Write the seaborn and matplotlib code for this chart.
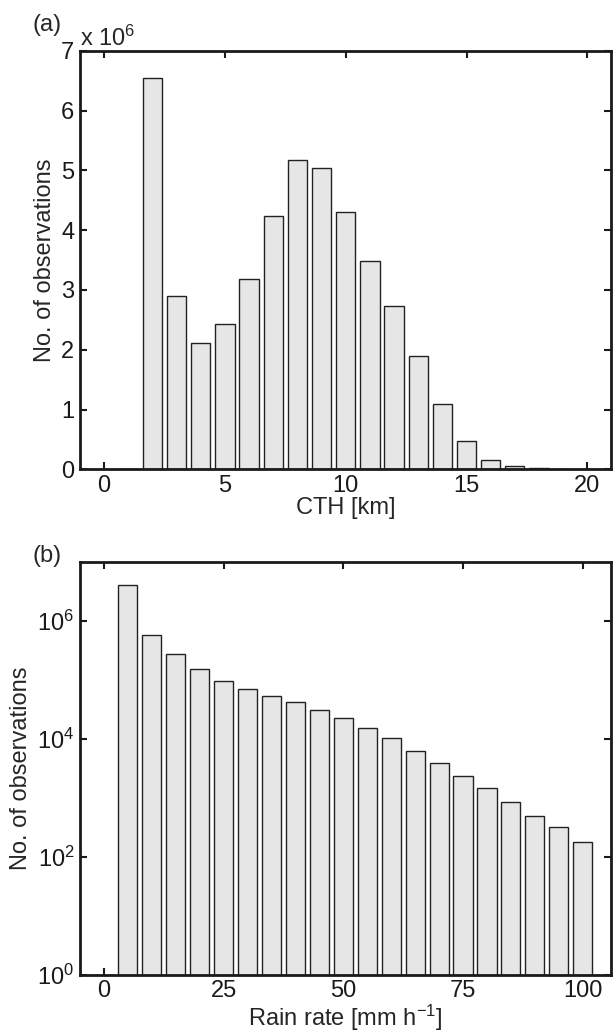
import numpy as np
import pandas as pd
import matplotlib
matplotlib.use("Agg")
import matplotlib.pyplot as plt
import matplotlib.ticker as mticker
import seaborn as sns

# ---- data ----
cth_km = list(range(0, 21))
cth_counts = [0, 0, 6.54e6, 2.90e6, 2.12e6, 2.43e6, 3.18e6, 4.23e6, 5.17e6, 5.04e6,
              4.31e6, 3.49e6, 2.73e6, 1.90e6, 1.09e6, 0.47e6, 0.16e6, 0.06e6, 0.028e6,
              0.0, 0.0]

rain_rate = list(range(0, 105, 5))
rain_counts = [0, 4.05e6, 5.8e5, 2.76e5, 1.54e5, 9.6e4, 6.9e4, 5.4e4, 4.2e4, 3.1e4,
               2.3e4, 1.55e4, 1.03e4, 6.3e3, 3.9e3, 2.35e3, 1.47e3, 860, 495, 316, 178]

cth_ticks = [0, 5, 10, 15, 20]
rain_ticks = [0, 25, 50, 75, 100]
log_ticks = [1, 1e2, 1e4, 1e6]

sns.set_style("ticks")
plt.rcParams['font.family'] = ['Liberation Sans', 'DejaVu Sans']
plt.rcParams['mathtext.default'] = 'regular'
plt.rcParams['axes.linewidth'] = 2.0
plt.rcParams['xtick.direction'] = 'in'
plt.rcParams['ytick.direction'] = 'in'

FS = 17
fig = plt.figure(figsize=(6.13, 10.36), dpi=100)
ax1 = fig.add_axes([0.1305, 0.547, 0.867, 0.404])
ax2 = fig.add_axes([0.1305, 0.059, 0.867, 0.3985])

bar_kw = dict(native_scale=True, width=0.8, color='#e6e6e6', edgecolor='#222222',
              linewidth=1.0, saturation=1)

df1 = pd.DataFrame({'CTH': cth_km, 'N': cth_counts})
sns.barplot(data=df1, x='CTH', y='N', ax=ax1, **bar_kw)
ax1.set_xlim(-1, 21)
ax1.set_ylim(0, 7e6)
ax1.set_xticks(cth_ticks)
ax1.set_yticks(np.arange(0, 8) * 1e6)
ax1.yaxis.set_major_formatter(mticker.FuncFormatter(lambda v, p: f"{v/1e6:g}"))
ax1.set_xlabel('CTH [km]', fontsize=FS, labelpad=0)
ax1.set_ylabel('No. of observations', fontsize=FS, labelpad=4)
ax1.text(0.0, 1.0, r'x 10$^{6}$', transform=ax1.transAxes, fontsize=FS,
         ha='left', va='bottom')
fig.text(0.053, 0.976, '(a)', fontsize=FS, ha='left', va='center')

df2 = pd.DataFrame({'Rain': rain_rate, 'N': rain_counts})
ax2.set_yscale('log')
sns.barplot(data=df2, x='Rain', y='N', ax=ax2, **bar_kw)
ax2.set_xlim(-5, 106)
ax2.set_ylim(1, 1e7)
ax2.set_xticks(rain_ticks)
ax2.yaxis.set_major_locator(mticker.FixedLocator(log_ticks))
ax2.yaxis.set_minor_locator(mticker.NullLocator())
ax2.yaxis.set_major_formatter(mticker.LogFormatterMathtext())
ax2.set_xlabel(r'Rain rate [mm h$^{-1}$]', fontsize=FS, labelpad=0)
ax2.set_ylabel('No. of observations', fontsize=FS, labelpad=4)
fig.text(0.053, 0.463, '(b)', fontsize=FS, ha='left', va='center')

for ax in (ax1, ax2):
    for s in ax.spines.values():
        s.set_visible(True)
        s.set_color('#1a1a1a')
    ax.tick_params(which='both', direction='in', top=True, right=True,
                   length=5, width=1.5, labelsize=FS, colors='#1a1a1a', pad=4)
    ax.set_facecolor('white')

fig.savefig('out.png', dpi=100, facecolor='white')
